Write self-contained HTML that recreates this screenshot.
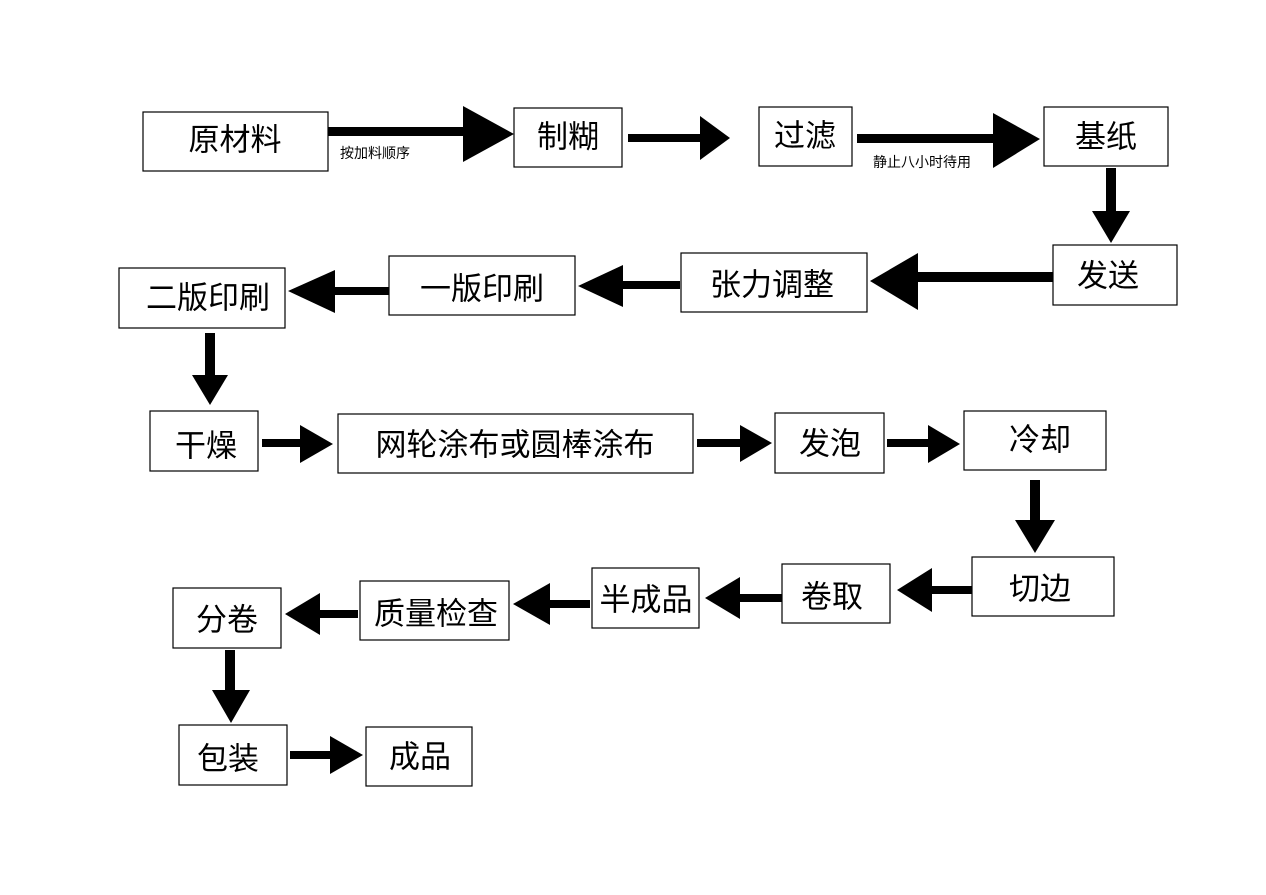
<!DOCTYPE html>
<html><head><meta charset="utf-8"><style>
body{margin:0;background:#fff;}
svg{display:block}
text{font-family:"Liberation Sans","Noto Sans CJK SC",sans-serif;fill:#000}
.b{fill:#fff;stroke:#000;stroke-width:1.2}
.t{font-size:31px;text-anchor:middle;dominant-baseline:central}
</style></head><body>
<svg width="1266" height="895" viewBox="0 0 1266 895">
<g>
<rect class="b" x="143" y="112" width="185" height="59"/><text class="t" x="235" y="140">原材料</text>
<rect class="b" x="514" y="108" width="108" height="59"/><text class="t" x="568" y="137">制糊</text>
<rect class="b" x="759" y="107" width="93" height="59"/><text class="t" x="805" y="136">过滤</text>
<rect class="b" x="1044" y="107" width="124" height="59"/><text class="t" x="1106" y="137">基纸</text>
<rect class="b" x="1053" y="245" width="124" height="60"/><text class="t" x="1108" y="276">发送</text>
<rect class="b" x="681" y="253" width="186" height="59"/><text class="t" x="772" y="285">张力调整</text>
<rect class="b" x="389" y="256" width="186" height="59"/><text class="t" x="482" y="289">一版印刷</text>
<rect class="b" x="119" y="268" width="166" height="60"/><text class="t" x="208" y="298">二版印刷</text>
<rect class="b" x="150" y="411" width="108" height="60"/><text class="t" x="206" y="446">干燥</text>
<rect class="b" x="338" y="414" width="355" height="59"/><text class="t" x="515" y="445">网轮涂布或圆棒涂布</text>
<rect class="b" x="775" y="413" width="109" height="60"/><text class="t" x="830" y="444">发泡</text>
<rect class="b" x="964" y="411" width="142" height="59"/><text class="t" x="1040" y="440">冷却</text>
<rect class="b" x="972" y="557" width="142" height="59"/><text class="t" x="1040" y="589">切边</text>
<rect class="b" x="782" y="564" width="108" height="59"/><text class="t" x="832" y="597">卷取</text>
<rect class="b" x="592" y="568" width="107" height="60"/><text class="t" x="646" y="600">半成品</text>
<rect class="b" x="360" y="581" width="149" height="59"/><text class="t" x="436" y="614">质量检查</text>
<rect class="b" x="173" y="588" width="108" height="60"/><text class="t" x="227" y="620">分卷</text>
<rect class="b" x="179" y="725" width="108" height="60"/><text class="t" x="228" y="759">包装</text>
<rect class="b" x="366" y="727" width="106" height="59"/><text class="t" x="420" y="757">成品</text>
</g>
<text x="340" y="158" style="font-size:14px">按加料顺序</text>
<text x="873" y="167" style="font-size:14px">静止八小时待用</text>
<g fill="#000">
<rect x="328" y="127" width="137" height="9"/><polygon points="463,106 514,134 463,162"/>
<rect x="628" y="134" width="74" height="8"/><polygon points="700,116 730,138 700,160"/>
<rect x="857" y="134" width="138" height="9"/><polygon points="993,113 1040,139 993,168"/>
<rect x="1106" y="168" width="10" height="45"/><polygon points="1092,211 1130,211 1111,243"/>
<rect x="916" y="272" width="137" height="10"/><polygon points="918,253 870,281 918,310"/>
<rect x="621" y="281" width="59" height="8"/><polygon points="623,265 578,286 623,307"/>
<rect x="333" y="287" width="56" height="8"/><polygon points="335,270 288,291 335,313"/>
<rect x="205" y="333" width="10" height="44"/><polygon points="192,375 228,375 210,405"/>
<rect x="262" y="439" width="40" height="8"/><polygon points="300,425 333,444 300,463"/>
<rect x="697" y="439" width="45" height="8"/><polygon points="740,425 772,443 740,462"/>
<rect x="887" y="439" width="43" height="8"/><polygon points="928,425 960,444 928,463"/>
<rect x="1030" y="480" width="10" height="42"/><polygon points="1015,520 1055,520 1035,553"/>
<rect x="930" y="586" width="42" height="8"/><polygon points="932,568 897,590 932,612"/>
<rect x="738" y="594" width="44" height="8"/><polygon points="740,577 705,598 740,619"/>
<rect x="548" y="600" width="42" height="8"/><polygon points="550,583 513,604 550,625"/>
<rect x="318" y="610" width="40" height="8"/><polygon points="320,593 285,614 320,635"/>
<rect x="225" y="650" width="10" height="42"/><polygon points="212,690 250,690 231,723"/>
<rect x="290" y="751" width="42" height="8"/><polygon points="330,736 363,755 330,774"/>
</g>
</svg>
</body></html>
